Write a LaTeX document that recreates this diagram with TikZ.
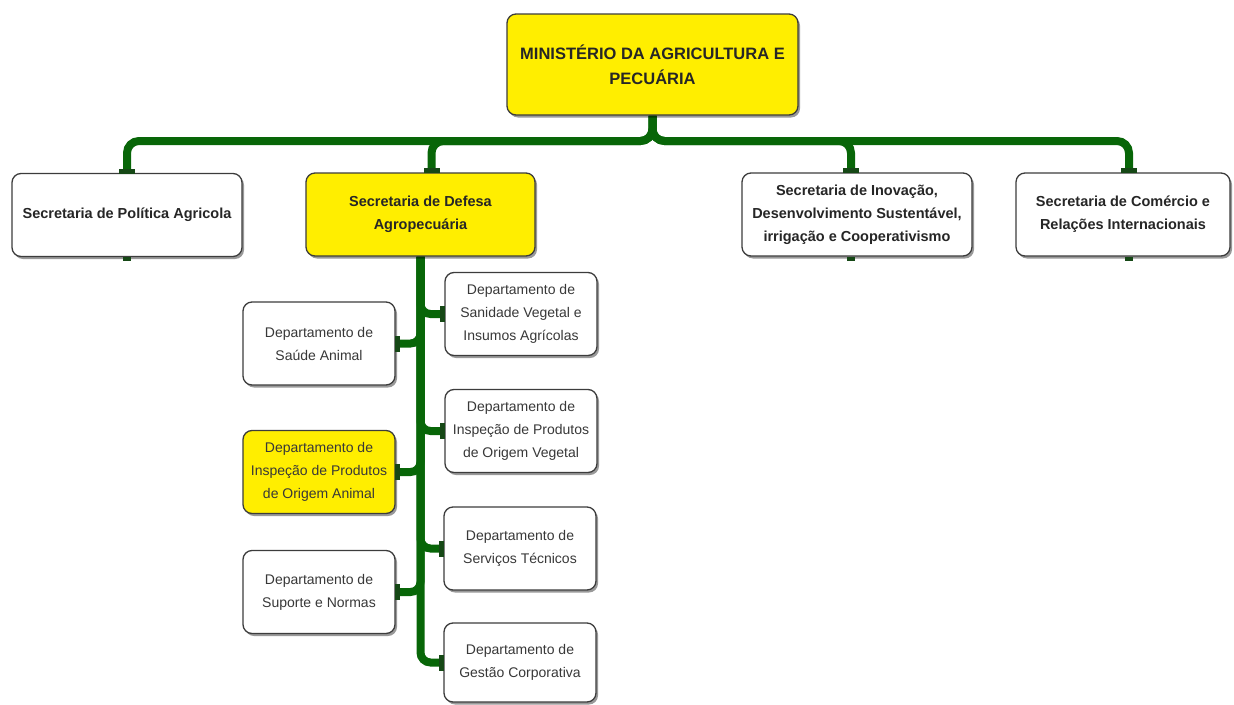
\documentclass[tikz,border=0pt]{standalone}
\usepackage{fontspec}
\setmainfont{Liberation Sans}
\usetikzlibrary{shadows,backgrounds,calc}
\definecolor{boxyellow}{RGB}{255,238,0}
\definecolor{conngreen}{RGB}{8,102,8}
\definecolor{stubgreen}{RGB}{22,72,22}
\definecolor{boxborder}{RGB}{60,60,60}
\begin{document}
\begin{tikzpicture}[x=1pt,y=-1pt,
  box/.style={draw=boxborder, line width=1.3pt, rounded corners=9pt, fill=white, align=center, inner sep=0pt,
    drop shadow={shadow xshift=2pt,shadow yshift=-2.5pt,fill=black,opacity=0.4}},
  sec/.style={box, font=\bfseries\fontsize{14.5}{23}\selectfont, text=black!85, minimum width=230pt, minimum height=83pt},
  dept/.style={box, font=\fontsize{14}{23}\selectfont, text=black!78, minimum width=152pt, minimum height=83pt},
  yel/.style={fill=boxyellow},
  conn/.style={draw=conngreen, line width=8pt, rounded corners=12pt},
  stub/.style={fill=stubgreen}]
\useasboundingbox (0,0) rectangle (1234,704);
\coordinate (bus) at (0,141);
% top
\node[box, yel, minimum width=291pt, minimum height=101pt, text=black!85,
  font=\bfseries\fontsize{16.5}{25}\selectfont] (min) at (652.5,64.5) {MINISTÉRIO DA AGRICULTURA E\\PECUÁRIA};
% secretarias
\node[sec] (pol) at (127,215) {Secretaria de Política Agricola};
\node[sec, yel, minimum width=229pt] (def) at (420.5,214.5) {Secretaria de Defesa\\Agropecuária};
\node[sec] (ino) at (857,214.5) {Secretaria de Inovação,\\Desenvolvimento Sustentável,\\irrigação e Cooperativismo};
\node[sec, minimum width=214pt] (com) at (1123,214.5) {Secretaria de Comércio e\\Relações Internacionais};
% departamentos
\node[dept] (sav) at (521,314) {Departamento de\\Sanidade Vegetal e\\Insumos Agrícolas};
\node[dept] (isv) at (521,431) {Departamento de\\Inspeção de Produtos\\de Origem Vegetal};
\node[dept] (stc) at (520,548.5) {Departamento de\\Serviços Técnicos};
\node[dept, minimum height=79pt] (gco) at (520,662.5) {Departamento de\\Gestão Corporativa};
\node[dept] (san) at (319,343.5) {Departamento de\\Saúde Animal};
\node[dept, yel] (ipa) at (319,472) {Departamento de\\Inspeção de Produtos\\de Origem Animal};
\node[dept] (sup) at (319,592) {Departamento de\\Suporte e Normas};
% connectors
\begin{scope}[on background layer]
\draw[conn] (min.south) |- (pol.north |- bus) -- (pol.north);
\draw[conn] (min.south) |- ($(def.north |- bus)+(11,0)$) -- ($(def.north)+(11,0)$);
\draw[conn] (min.south) |- ($(ino.north |- bus)+(-6,0)$) -- ($(ino.north)+(-6,0)$);
\draw[conn] (min.south) |- ($(com.north |- bus)+(6,0)$) -- ($(com.north)+(6,0)$);
\draw[conn, rounded corners=10pt] (def.south) |- (sav.west);
\draw[conn, rounded corners=10pt] (def.south) |- (isv.west);
\draw[conn, rounded corners=10pt] (def.south) |- (stc.west);
\draw[conn, rounded corners=10pt] (def.south) |- (gco.west);
\draw[conn, rounded corners=10pt] (def.south) |- (san.east);
\draw[conn, rounded corners=10pt] (def.south) |- (ipa.east);
\draw[conn, rounded corners=10pt] (def.south) |- (sup.east);
\end{scope}
% stubs
\fill[stub] ($(pol.north)+(-8,-4)$) rectangle ($(pol.north)+(8,1)$);
\fill[stub] ($(def.north)+(3,-4)$) rectangle ($(def.north)+(19,1)$);
\fill[stub] ($(ino.north)+(-14,-4)$) rectangle ($(ino.north)+(2,1)$);
\fill[stub] ($(com.north)+(-2,-4)$) rectangle ($(com.north)+(14,1)$);
\fill[stub] ($(pol.south)+(-4,0)$) rectangle ($(pol.south)+(4,4)$);
\fill[stub] ($(ino.south)+(-10,0)$) rectangle ($(ino.south)+(-2,4)$);
\fill[stub] ($(com.south)+(2,0)$) rectangle ($(com.south)+(10,4)$);
\foreach \n in {sav,isv,stc,gco} {
  \fill[stub] ($(\n.west)+(-4,-8)$) rectangle ($(\n.west)+(1,8)$);
}
\foreach \n in {san,ipa,sup} {
  \fill[stub] ($(\n.east)+(-1,-8)$) rectangle ($(\n.east)+(4,8)$);
}
\end{tikzpicture}
\end{document}
